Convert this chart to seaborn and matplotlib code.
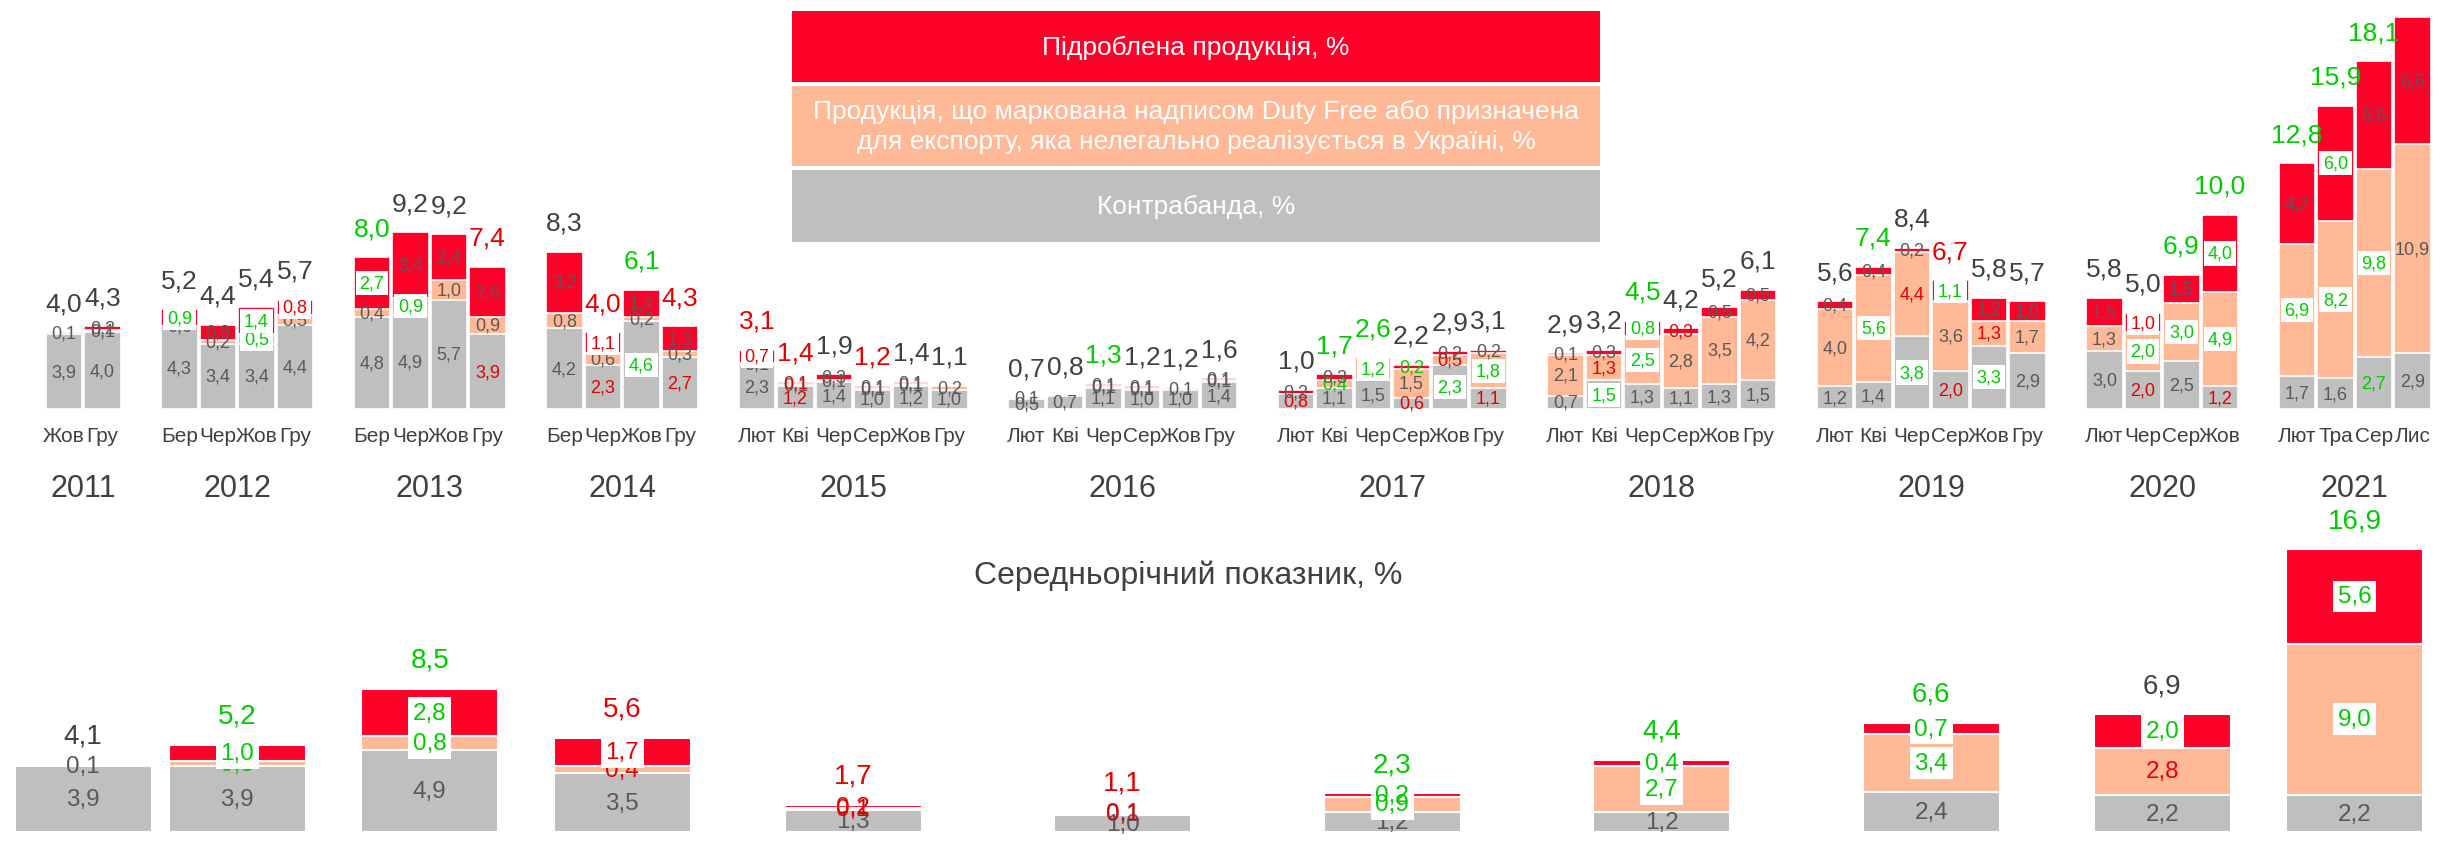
import matplotlib
matplotlib.use('Agg')
import matplotlib.pyplot as plt
import matplotlib.transforms as mtransforms
from matplotlib.patches import Rectangle
import numpy as np
import pandas as pd
import seaborn as sns

years = ['2011', '2012', '2013', '2014', '2015', '2016', '2017', '2018', '2019', '2020', '2021']
year_months = [
    ['Жов', 'Гру'],
    ['Бер', 'Чер', 'Жов', 'Гру'],
    ['Бер', 'Чер', 'Жов', 'Гру'],
    ['Бер', 'Чер', 'Жов', 'Гру'],
    ['Лют', 'Кві', 'Чер', 'Сер', 'Жов', 'Гру'],
    ['Лют', 'Кві', 'Чер', 'Сер', 'Жов', 'Гру'],
    ['Лют', 'Кві', 'Чер', 'Сер', 'Жов', 'Гру'],
    ['Лют', 'Кві', 'Чер', 'Сер', 'Жов', 'Гру'],
    ['Лют', 'Кві', 'Чер', 'Сер', 'Жов', 'Гру'],
    ['Лют', 'Чер', 'Сер', 'Жов'],
    ['Лют', 'Тра', 'Сер', 'Лис'],
]
contraband = [
    [3.9, 4.0],
    [4.3, 3.4, 3.4, 4.4],
    [4.8, 4.9, 5.7, 3.9],
    [4.2, 2.3, 4.6, 2.7],
    [2.3, 1.2, 1.4, 1.0, 1.2, 1.0],
    [0.5, 0.7, 1.1, 1.0, 1.0, 1.4],
    [0.8, 1.1, 1.5, 0.6, 2.3, 1.1],
    [0.7, 1.5, 1.3, 1.1, 1.3, 1.5],
    [1.2, 1.4, 3.8, 2.0, 3.3, 2.9],
    [3.0, 2.0, 2.5, 1.2],
    [1.7, 1.6, 2.7, 2.9],
]
dutyfree = [
    [0.1, 0.1],
    [0.0, 0.2, 0.5, 0.5],
    [0.4, 0.9, 1.0, 0.9],
    [0.8, 0.6, 0.2, 0.3],
    [0.1, 0.1, 0.1, 0.1, 0.1, 0.2],
    [0.1, 0.0, 0.1, 0.1, 0.1, 0.1],
    [0.0, 0.4, 1.2, 1.5, 0.5, 1.8],
    [2.1, 1.3, 2.5, 2.8, 3.5, 4.2],
    [4.0, 5.6, 4.4, 3.6, 1.3, 1.7],
    [1.3, 2.0, 3.0, 4.9],
    [6.9, 8.2, 9.8, 10.9],
]
counterfeit = [
    [0.0, 0.2],
    [0.9, 0.8, 1.4, 0.8],
    [2.7, 3.4, 2.4, 2.6],
    [3.2, 1.1, 1.4, 1.3],
    [0.7, 0.1, 0.3, 0.1, 0.1, 0.0],
    [0.0, 0.0, 0.1, 0.1, 0.0, 0.1],
    [0.2, 0.3, 0.0, 0.2, 0.2, 0.2],
    [0.1, 0.3, 0.8, 0.3, 0.5, 0.5],
    [0.4, 0.4, 0.2, 1.1, 1.2, 1.0],
    [1.5, 1.0, 1.5, 4.0],
    [4.2, 6.0, 5.6, 6.6],
]
totals = [
    [4.0, 4.3],
    [5.2, 4.4, 5.4, 5.7],
    [8.0, 9.2, 9.2, 7.4],
    [8.3, 4.0, 6.1, 4.3],
    [3.1, 1.4, 1.9, 1.2, 1.4, 1.1],
    [0.7, 0.8, 1.3, 1.2, 1.2, 1.6],
    [1.0, 1.7, 2.6, 2.2, 2.9, 3.1],
    [2.9, 3.2, 4.5, 4.2, 5.2, 6.1],
    [5.6, 7.4, 8.4, 6.7, 5.8, 5.7],
    [5.8, 5.0, 6.9, 10.0],
    [12.8, 15.9, 18.1, np.nan],
]
# change marks per segment (contraband, duty free, counterfeit):
# '.' no change, 'u' up, 'd' down, capital = highlighted, '-' not labelled
seg_marks = [
    ['..-', '...'],
    ['..U', '...', '.UU', '..D'],
    ['..U', '.U.', '...', 'd..'],
    ['...', 'd.D', 'U..', 'd..'],
    ['..D', 'd.d', '...', '...', '...', '..-'],
    ['..-', '.--', '...', '...', '..-', '...'],
    ['d-.', '.u.', '.U-', 'd.u', 'Ud.', 'dU.'],
    ['...', 'Ud.', '.UU', '..d', '...', '...'],
    ['...', '.U.', 'Ud.', 'd.U', 'Ud.', '...'],
    ['...', 'dUD', '.U.', 'dUU'],
    ['.U.', '.UU', 'uU.', '...'],
]
total_marks = [
    ['.', '.'],
    ['.', '.', '.', '.'],
    ['u', '.', '.', 'd'],
    ['.', 'd', 'u', 'd'],
    ['d', 'd', '.', 'd', '.', '.'],
    ['.', '.', 'u', '.', '.', '.'],
    ['.', 'u', 'u', '.', '.', '.'],
    ['.', '.', 'u', '.', '.', '.'],
    ['.', 'u', '.', 'd', '.', '.'],
    ['.', '.', 'u', 'u'],
    ['u', 'u', 'u', '-'],
]

# yearly averages
avg_contraband = [3.9, 3.9, 4.9, 3.5, 1.3, 1.0, 1.2, 1.2, 2.4, 2.2, 2.2]
avg_dutyfree = [0.0, 0.3, 0.8, 0.4, 0.1, 0.1, 0.9, 2.7, 3.4, 2.8, 9.0]
avg_counterfeit = [0.1, 1.0, 2.8, 1.7, 0.2, 0.1, 0.2, 0.4, 0.7, 2.0, 5.6]
avg_total = [4.1, 5.2, 8.5, 5.6, 1.7, 1.1, 2.3, 4.4, 6.6, 6.9, 16.9]
avg_seg_marks = ['.-.', '.uU', '.UU', '.dD', '.dd', '..d', '.Uu', '.UU', '.UU', '.dU', '.UU']
avg_total_marks = ['.', 'u', 'u', 'd', 'd', 'd', 'u', 'u', 'u', '.', 'u']

series_names = [
    'Підроблена продукція, %',
    'Продукція, що маркована надписом Duty Free або призначена\nдля експорту, яка нелегально реалізується в Україні, %',
    'Контрабанда, %',
]
avg_title = 'Середньорічний показник, %'

RED = '#FF0029'
PEACH = '#FFB996'
GRAY = '#BFBFBF'
GREEN = '#00CC00'
DOWN = '#E60000'
TXT = '#404040'
SEGTXT = '#595959'

sns.set_style('white')
plt.rcParams['font.family'] = ['Liberation Sans', 'DejaVu Sans']


def fmt(v):
    return f'{v:.1f}'.replace('.', ',')


def mark_color(m, neutral):
    return {'u': GREEN, 'd': DOWN}.get(m.lower(), neutral)


# one slot per month, one empty slot between years
rows = []
group_center = []
slot = 0
for yr, ms, cs, ds, fs, ts, sm, tm in zip(years, year_months, contraband, dutyfree,
                                          counterfeit, totals, seg_marks, total_marks):
    start = slot
    for m, c, d, f, t, s, k in zip(ms, cs, ds, fs, ts, sm, tm):
        rows.append(dict(year=yr, month=m, pos=slot, contraband=c, dutyfree=d,
                         counterfeit=f, total=t, seg=s, tmark=k))
        slot += 1
    group_center.append((start + slot - 1) / 2)
    slot += 1
top = pd.DataFrame(rows)
top['lvl2'] = top.contraband + top.dutyfree
top['lvl3'] = top.lvl2 + top.counterfeit

avg = pd.DataFrame(dict(year=years, pos=group_center, contraband=avg_contraband,
                        dutyfree=avg_dutyfree, counterfeit=avg_counterfeit,
                        total=avg_total, seg=avg_seg_marks, tmark=avg_total_marks))
avg['lvl2'] = avg.contraband + avg.dutyfree
avg['lvl3'] = avg.lvl2 + avg.counterfeit

fig = plt.figure(figsize=(24.4, 8.53), dpi=100)
ax = fig.add_axes([0, 0.5193, 1, 0.4807])
axb = fig.add_axes([0, 0.0234, 1, 0.367])

xlim = (-64 / 38.5, (2440 - 64) / 38.5)


def stacked(axis, frame, width, lw):
    for col, color in [('lvl3', RED), ('lvl2', PEACH), ('contraband', GRAY)]:
        sns.barplot(data=frame, x='pos', y=col, native_scale=True, color=color,
                    saturation=1, width=width, edgecolor='white', linewidth=lw,
                    errorbar=None, ax=axis)


def label_stack(axis, frame, size, tsize, toff):
    for _, r in frame.iterrows():
        base = 0
        for key, m in zip(['contraband', 'dutyfree', 'counterfeit'], r.seg):
            v = r[key]
            if m != '-':
                box = None
                if m.isupper():
                    box = dict(boxstyle='square,pad=0.2', fc='white', ec='none')
                axis.text(r.pos, base + v / 2, fmt(v), ha='center', va='center',
                          fontsize=size, color=mark_color(m, SEGTXT), bbox=box)
            base += v
        if r.tmark != '-':
            axis.annotate(fmt(r.total), (r.pos, r.lvl3), xytext=(0, toff),
                          textcoords='offset points', ha='center', va='center',
                          fontsize=tsize, color=mark_color(r.tmark, TXT))


# monthly bars
stacked(ax, top, 0.95, 1.2)
label_stack(ax, top, 13, 19, 21)
ax.set_xlim(*xlim)
ax.set_ylim(0, 21.35)
ax.set_yticks([])
ax.set_xticks(top.pos, top.month)
ax.tick_params(axis='x', length=0, pad=12, labelsize=15, labelcolor=TXT)
ax.set_xlabel('')
ax.set_ylabel('')
sns.despine(ax=ax, left=True, bottom=True)

trans = mtransforms.blended_transform_factory(ax.transData, ax.transAxes)
for yr, xc in zip(years, group_center):
    ax.text(xc, -0.193, yr, transform=trans, ha='center', va='center',
            fontsize=22, color=TXT)

# yearly averages
stacked(axb, avg, 3.55 / np.diff(group_center).min(), 1.5)
label_stack(axb, avg, 17.5, 20, 21)
axb.set_xlim(*xlim)
axb.set_ylim(0, 18.6)
axb.set_xticks([])
axb.set_yticks([])
axb.set_xlabel('')
axb.set_ylabel('')
sns.despine(ax=axb, left=True, bottom=True)
fig.text(1188 / 2440, 1 - 576 / 853, avg_title, ha='center', va='center',
         fontsize=23, color=TXT)

# legend blocks
for color, name, y0, y1 in zip([RED, PEACH, GRAY], series_names,
                               [12, 87, 171], [83, 167, 243]):
    fig.add_artist(Rectangle((792 / 2440, 1 - y1 / 853), 808 / 2440, (y1 - y0) / 853,
                             transform=fig.transFigure, fc=color, ec='none'))
    fig.text(1196 / 2440, 1 - (y0 + y1) / 2 / 853, name, ha='center', va='center',
             color='white', fontsize=19, linespacing=1.3)

fig.savefig('out.png', dpi=100)
